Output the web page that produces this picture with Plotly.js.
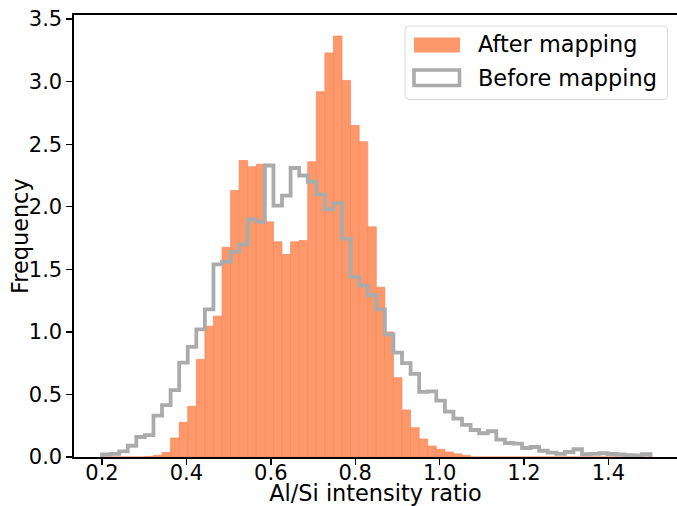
<!DOCTYPE html>
<html>
<head>
<meta charset="utf-8">
<script src="https://cdn.plot.ly/plotly-3.0.1.min.js"></script>
<style>html,body{margin:0;padding:0;background:#fff;}#chart{width:677px;height:506px;}</style>
</head>
<body>
<div id="chart"></div>
<script>
// Histogram bins (shared by both series)
const binStart = 0.2;
const binEnd = 1.5;
const binCount = 64;

// "After mapping" frequency per bin
const afterMapping = [
  0, 0, 0, 0, 0, 0.005, 0.013, 0.037, 0.152, 0.277,
  0.405, 0.78, 1.046, 1.126, 1.676, 2.13, 2.37, 2.32, 2.34, 1.88,
  1.72, 1.62, 1.72, 1.73, 2.36, 2.92, 3.23, 3.365, 3.01, 2.65,
  2.52, 1.84, 1.357, 1.00, 0.634, 0.376, 0.234, 0.144, 0.088, 0.062,
  0.04, 0.025, 0.013, 0, 0, 0, 0, 0, 0, 0,
  0, 0, 0, 0, 0, 0, 0, 0, 0, 0,
  0, 0, 0, 0
];

// "Before mapping" frequency per bin
const beforeMapping = [
  0.02, 0.025, 0.045, 0.09, 0.16, 0.175, 0.33, 0.415, 0.535, 0.755,
  0.88, 1.02, 1.18, 1.54, 1.56, 1.64, 1.70, 1.90, 1.88, 2.33,
  2.01, 2.09, 2.31, 2.25, 2.20, 2.10, 1.98, 2.03, 1.745, 1.44,
  1.37, 1.295, 1.18, 0.98, 0.835, 0.75, 0.665, 0.52, 0.525, 0.45,
  0.362, 0.307, 0.256, 0.216, 0.19, 0.206, 0.139, 0.112, 0.107, 0.072,
  0.08, 0.05, 0.035, 0.025, 0.04, 0.062, 0.022, 0.025, 0.03, 0.024,
  0.02, 0.014, 0.013, 0.022
];

const seriesNames = ["After mapping", "Before mapping"];
const xTitle = "Al/Si intensity ratio";
const yTitle = "Frequency";

// ---- derived geometry from bins ----
const binWidth = (binEnd - binStart) / binCount;
const edges = [];
for (let k = 0; k <= binCount; k++) edges.push(binStart + k * binWidth);
const centers = edges.slice(0, binCount).map(e => e + binWidth / 2);

// step outline (matplotlib histtype='step')
const stepX = [edges[0]];
const stepY = [0];
for (let k = 0; k < binCount; k++) { stepX.push(edges[k]); stepY.push(beforeMapping[k]); }
stepX.push(edges[binCount]); stepY.push(beforeMapping[binCount - 1]);
stepX.push(edges[binCount]); stepY.push(0);

const orange = "rgb(253,152,106)";
const grey = "#ababab";
const font = "DejaVu Sans";

const traces = [
  {
    type: "bar", name: seriesNames[0], x: centers, y: afterMapping, width: binWidth,
    marker: {color: orange, line: {color: "rgb(249,136,92)", width: 0.7}},
    showlegend: false, hoverinfo: "skip"
  },
  {
    type: "scatter", mode: "lines", name: seriesNames[1], x: stepX, y: stepY,
    line: {color: grey, width: 3.8, shape: "hv"},
    showlegend: false, hoverinfo: "skip"
  }
];

// plot area in pixels
const W = 677, H = 506;
const L = 74, R = 0, T = 15, B = 49;
const pw = W - L - R, ph = H - T - B;
const px = x => (x - L) / pw;
const py = y => (H - B - y) / ph;

// custom legend (matplotlib style)
function roundRect(x0, y0, x1, y1, r) {
  const X0 = px(x0), X1 = px(x1), Y0 = py(y0), Y1 = py(y1);
  const rx = r / pw, ry = r / ph;
  return `M${X0 + rx},${Y0} L${X1 - rx},${Y0} Q${X1},${Y0} ${X1},${Y0 - ry} L${X1},${Y1 + ry} Q${X1},${Y1} ${X1 - rx},${Y1} L${X0 + rx},${Y1} Q${X0},${Y1} ${X0},${Y1 + ry} L${X0},${Y0 - ry} Q${X0},${Y0} ${X0 + rx},${Y0} Z`;
}

const shapes = [
  {type: "path", xref: "paper", yref: "paper", path: roundRect(405, 26, 667.5, 99.5, 4),
   fillcolor: "rgba(255,255,255,0.85)", line: {color: "#d9d9d9", width: 1}},
  {type: "rect", xref: "paper", yref: "paper", x0: px(414), x1: px(460), y0: py(37.5), y1: py(52.5),
   fillcolor: orange, line: {width: 0}},
  {type: "rect", xref: "paper", yref: "paper", x0: px(414), x1: px(459.5), y0: py(70), y1: py(85.5),
   fillcolor: "rgba(0,0,0,0)", line: {color: grey, width: 3.6}}
];

const annotations = [
  {xref: "paper", yref: "paper", x: px(476), y: py(44), xanchor: "left", yanchor: "middle",
   text: seriesNames[0], showarrow: false, font: {family: font, size: 22.4, color: "#000"}},
  {xref: "paper", yref: "paper", x: px(476), y: py(77.5), xanchor: "left", yanchor: "middle",
   text: seriesNames[1], showarrow: false, font: {family: font, size: 22.4, color: "#000"}},
  // y-axis title
  {xref: "paper", yref: "paper", x: px(20), y: py(236), xanchor: "center", yanchor: "middle",
   textangle: -90, text: yTitle, showarrow: false, font: {family: font, size: 22.4, color: "#000"}}
];

const layout = {
  width: W, height: H,
  margin: {l: L, r: R, t: T, b: B, pad: 0},
  paper_bgcolor: "#fff", plot_bgcolor: "#fff",
  font: {family: font, color: "#000"},
  bargap: 0, barmode: "overlay",
  showlegend: false,
  xaxis: {
    range: [0.1336, 1.5626], dtick: 0.2, tick0: 0.2, tickformat: ".1f",
    showgrid: false, zeroline: false,
    showline: true, linecolor: "#000", linewidth: 1.6, mirror: true,
    ticks: "outside", ticklen: 6, tickwidth: 1.4, tickcolor: "#000",
    ticklabelstandoff: -10,
    tickfont: {family: font, size: 21, color: "#000"},
    title: {text: xTitle, font: {family: font, size: 22.4, color: "#000"}, standoff: 7}
  },
  yaxis: {
    range: [0, 3.533], dtick: 0.5, tick0: 0, tickformat: ".1f",
    showgrid: false, zeroline: false,
    showline: true, linecolor: "#000", linewidth: 1.6, mirror: false,
    ticks: "outside", ticklen: 6, tickwidth: 1.4, tickcolor: "#000",
    tickfont: {family: font, size: 21, color: "#000"}
  },
  shapes: shapes,
  annotations: annotations
};

Plotly.newPlot("chart", traces, layout, {displayModeBar: false, staticPlot: true});
</script>
</body>
</html>
